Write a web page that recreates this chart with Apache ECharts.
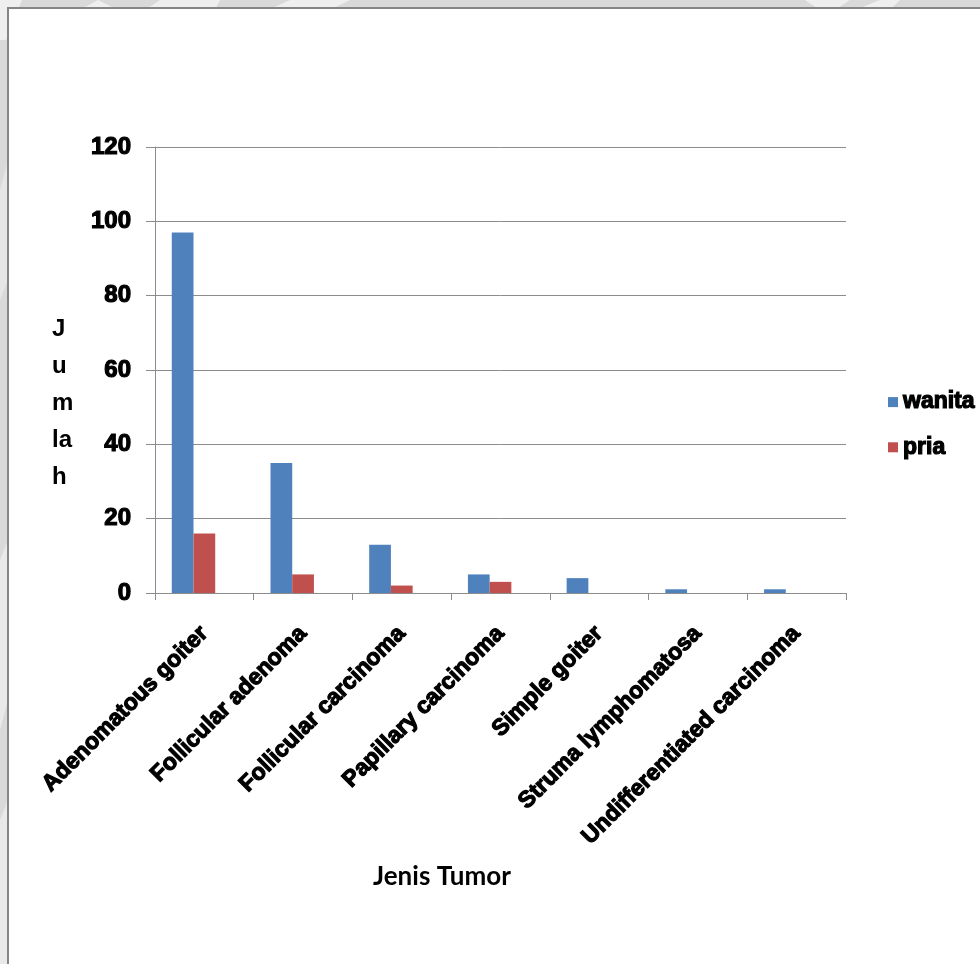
<!DOCTYPE html>
<html>
<head>
<meta charset="utf-8">
<script src="https://cdn.jsdelivr.net/npm/echarts@6/dist/echarts.min.js"></script>
<style>
  html, body { margin: 0; padding: 0; background: #d9d9d9; }
  #chart { width: 980px; height: 964px; }
</style>
</head>
<body>
<div id="chart"></div>
<script>
// Tumour types (x categories)
const categories = [
  'Adenomatous goiter',
  'Follicular adenoma',
  'Follicular carcinoma',
  'Papillary carcinoma',
  'Simple goiter',
  'Struma lymphomatosa',
  'Undifferentiated carcinoma'
];
// Case counts per sex
const wanita = [97, 35, 13, 5, 4, 1, 1];
const pria = [16, 5, 2, 3, 0, 0, 0];
// Value axis ticks
const yTicks = [0, 20, 40, 60, 80, 100, 120];

const labelFont = {
  color: '#000',
  fontFamily: '"Liberation Sans", Arial, sans-serif',
  fontWeight: 'bold',
  fontSize: 23,
  textBorderColor: '#000',
  textBorderWidth: 1.2
};

const chart = echarts.init(document.getElementById('chart'), null, { renderer: 'canvas' });

const shade = '#efefef';
const option = {
  animation: false,
  backgroundColor: '#d9d9d9',
  graphic: {
    elements: [
      // faint light shapes in the grey margin
      { type: 'polygon', z: -20, shape: { points: [[0, 0], [22, 0], [6, 40], [0, 40]] }, style: { fill: shade } },
      { type: 'polygon', z: -20, shape: { points: [[80, 10], [98, 0], [118, 10]] }, style: { fill: shade } },
      { type: 'polygon', z: -20, shape: { points: [[145, 10], [160, 0], [220, 0], [215, 10]] }, style: { fill: shade } },
      { type: 'polygon', z: -20, shape: { points: [[268, 10], [290, 0], [350, 0], [330, 10]] }, style: { fill: shade } },
      { type: 'polygon', z: -20, shape: { points: [[805, 0], [850, 0], [835, 10], [820, 10]] }, style: { fill: shade } },
      { type: 'polygon', z: -20, shape: { points: [[855, 10], [880, 0], [900, 0], [890, 10]] }, style: { fill: shade } },
      { type: 'polygon', z: -20, shape: { points: [[0, 190], [8, 160], [8, 280], [0, 300]] }, style: { fill: '#e6e6e6' } },
      { type: 'polygon', z: -20, shape: { points: [[0, 560], [8, 540], [8, 700], [0, 730]] }, style: { fill: '#e9e9e9' } },
      { type: 'polygon', z: -20, shape: { points: [[0, 820], [8, 800], [8, 964], [0, 964]] }, style: { fill: '#e9e9e9' } },
      // white chart panel with grey frame
      { type: 'rect', z: -10, shape: { x: 8, y: 8, width: 980, height: 970 },
        style: { fill: '#ffffff', stroke: '#858585', lineWidth: 2 } },
      // vertical value-axis title, one chunk per line
      { type: 'text', z: 5, left: 52, top: 311,
        style: { text: 'J\nu\nm\nla\nh', fill: '#000', font: 'bold 24px "Liberation Sans", Arial, sans-serif', lineHeight: 37 } },
      // category axis title
      { type: 'text', z: 5, left: 373, top: 864,
        style: { text: 'Jenis Tumor', fill: '#000', font: 'bold 26px Lato, "Open Sans", sans-serif' } }
    ]
  },
  legend: {
    orient: 'vertical',
    left: 883,
    top: 385,
    itemWidth: 10,
    itemHeight: 10,
    itemGap: 21,
    icon: 'rect',
    data: ['wanita', 'pria'],
    textStyle: Object.assign({}, labelFont, { fontSize: 23, lineHeight: 24 })
  },
  grid: { left: 155, right: 134, top: 147, bottom: 371, containLabel: false },
  xAxis: {
    type: 'category',
    data: categories,
    boundaryGap: true,
    axisLine: { lineStyle: { color: '#8c8c8c', width: 1 } },
    axisTick: { show: true, length: 7, alignWithLabel: false, lineStyle: { color: '#8c8c8c' } },
    axisLabel: Object.assign({}, labelFont, { rotate: 45, margin: 37, interval: 0 })
  },
  yAxis: {
    type: 'value',
    min: 0,
    max: 120,
    interval: 20,
    axisLine: { show: true, lineStyle: { color: '#8c8c8c', width: 1 } },
    axisTick: { show: true, length: 9, lineStyle: { color: '#8c8c8c' } },
    splitLine: { show: true, lineStyle: { color: '#8c8c8c', width: 1 } },
    axisLabel: Object.assign({}, labelFont, {
      fontSize: 24,
      margin: 24,
      formatter: v => (yTicks.indexOf(v) >= 0 ? String(v) : '')
    })
  },
  series: [
    { name: 'wanita', type: 'bar', data: wanita, barWidth: '22%', barGap: '0%',
      itemStyle: { color: '#4f81bd' } },
    { name: 'pria', type: 'bar', data: pria, barWidth: '22%', barGap: '0%',
      itemStyle: { color: '#c0504d' } },
    // empty third slot keeps the pair shifted left of each category centre
    { name: 'slot', type: 'bar', data: [], barWidth: '22%', barGap: '0%' }
  ]
};

chart.setOption(option);
</script>
</body>
</html>
